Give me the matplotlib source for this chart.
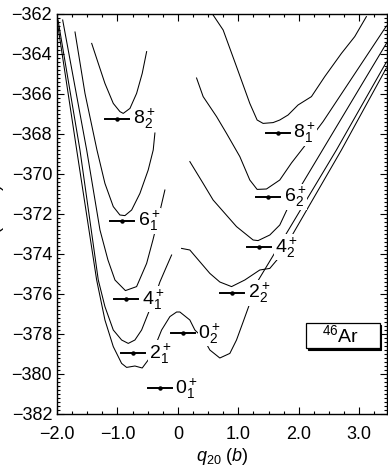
import numpy as np
import matplotlib.pyplot as plt
from matplotlib.patches import Rectangle
from matplotlib.ticker import MultipleLocator, FixedLocator

plt.rcParams['font.family'] = ['Liberation Sans', 'DejaVu Sans']
plt.rcParams['mathtext.fontset'] = 'custom'
plt.rcParams['mathtext.rm'] = 'Liberation Sans'
plt.rcParams['mathtext.it'] = 'Liberation Sans:italic'

# projected energy curves, (q20, E) pairs; oblate (left) and prolate (right) branches
q_I0 = [-2.005, -1.674, -1.344, -1.207, -1.069, -0.931, -0.848, -0.711, -0.590, -0.491,
        -0.380, -0.269, -0.132, -0.021, 0.033, 0.198, 0.281, 0.418, 0.529, 0.694,
        0.860, 0.970, 1.079, 1.190, 1.273, 1.562, 2.623, 3.45]
E_I0 = [-362.2, -368.8, -375.3, -377.3, -378.63, -379.47, -379.67, -379.6, -379.7, -379.3,
        -378.63, -377.8, -377.13, -376.9, -376.9, -377.3, -377.8, -378.2, -378.8, -379.2,
        -378.97, -378.3, -377.4, -376.47, -375.6, -374.15, -368.8, -364.4]

q_I2a = [-1.983, -1.620, -1.317, -1.207, -1.069, -0.931, -0.821, -0.711, -0.600, -0.491,
         -0.380, -0.298, -0.198, -0.104]
E_I2a = [-362.3, -368.8, -375.3, -376.63, -377.8, -378.3, -378.47, -378.3, -377.8, -376.97,
         -376.13, -375.4, -374.7, -374.05]
q_I2b = [0.061, 0.198, 0.529, 0.694, 0.888, 1.107, 1.355, 1.521, 1.686, 2.706, 3.45]
E_I2b = [-373.72, -373.8, -374.97, -375.4, -375.63, -375.3, -374.8, -374.72, -374.13,
         -368.8, -364.7]

q_I4a = [-1.906, -1.509, -1.289, -1.157, -1.041, -0.868, -0.683, -0.517, -0.413, -0.331, -0.215]
E_I4a = [-362.3, -368.8, -372.8, -374.3, -375.3, -375.83, -375.63, -374.47, -373.3, -372.3, -370.8]
q_I4b = [0.198, 0.418, 0.583, 0.970, 1.245, 1.327, 1.521, 1.686, 1.818, 2.314, 3.45]
E_I4b = [-369.38, -370.47, -371.3, -372.63, -373.3, -373.33, -373.05, -372.55, -371.7, -369.2, -363.47]

q_I6a = [-1.702, -1.537, -1.339, -1.207, -1.069, -0.959, -0.876, -0.765, -0.628, -0.491, -0.408, -0.380]
E_I6a = [-362.9, -365.97, -368.8, -370.47, -371.63, -372.05, -372.08, -371.8, -370.97, -369.8, -368.8, -367.95]
q_I6b = [0.309, 0.418, 0.640, 0.805, 1.025, 1.190, 1.311, 1.466, 1.686, 1.879, 2.154, 2.402, 3.45]
E_I6b = [-365.2, -366.13, -367.13, -367.97, -369.13, -370.3, -370.77, -370.75, -370.3, -369.45,
         -368.38, -367.38, -362.6]

q_I8a = [-1.426, -1.317, -1.207, -1.069, -0.959, -0.904, -0.793, -0.683, -0.590, -0.517]
E_I8a = [-363.47, -364.47, -365.47, -366.47, -366.88, -366.97, -366.72, -365.97, -364.97, -363.88]
q_I8b = [0.583, 0.749, 0.970, 1.190, 1.311, 1.410, 1.575, 1.686, 1.823, 1.988, 2.210, 2.430,
         2.706, 2.926, 3.119]
E_I8b = [-362.05, -362.8, -364.63, -366.47, -367.3, -367.47, -367.43, -367.3, -367.05, -366.55,
         -366.13, -365.13, -363.97, -363.13, -362.13]

curves = [(q_I0, E_I0), (q_I2a, E_I2a), (q_I2b, E_I2b), (q_I4a, E_I4a), (q_I4b, E_I4b),
          (q_I6a, E_I6a), (q_I6b, E_I6b), (q_I8a, E_I8a), (q_I8b, E_I8b)]

# states: label, q20 of the marker, energy
state_names = ['0', '2', '4', '6', '8', '0', '2', '4', '6', '8']
state_index = ['1', '1', '1', '1', '2', '2', '2', '2', '2', '1']
state_q = [-0.30, -0.74, -0.86, -0.92, -1.01, 0.08, 0.90, 1.34, 1.49, 1.65]
state_E = [-380.72, -378.97, -376.27, -372.35, -367.25, -377.97, -375.93, -373.67, -371.13, -367.93]
bar_half = 0.2

fig = plt.figure(figsize=(3.88, 4.71), dpi=100)
ax = fig.add_axes([57 / 388, 57 / 471, 330 / 388, 400 / 471])

for q, E in curves:
    ax.plot(q, E, color='black', lw=0.75, zorder=2)

for name, idx, q, E in zip(state_names, state_index, state_q, state_E):
    ax.plot([q - bar_half, q + bar_half], [E, E], color='black', lw=1.4, zorder=4)
    ax.plot(q, E, 'o', color='black', ms=2.2, zorder=5)
    ax.text(q + bar_half + 0.06, E, r'$\mathregular{%s^+_%s}$' % (name, idx),
            fontsize=14, ha='left', va='center', zorder=3,
            bbox=dict(facecolor='white', edgecolor='none', pad=0.5))

# nucleus tag with a drop shadow
box_x0, box_x1 = 2.124, 3.336
box_y0, box_y1 = -378.72, -377.47
sx, sy = 0.03, -0.1
ax.add_patch(Rectangle((box_x0 + sx, box_y0 + sy), box_x1 - box_x0, box_y1 - box_y0,
                       facecolor='black', edgecolor='black', lw=0.8, zorder=6))
ax.add_patch(Rectangle((box_x0, box_y0), box_x1 - box_x0, box_y1 - box_y0,
                       facecolor='white', edgecolor='black', lw=0.9, zorder=7))
ax.text((box_x0 + box_x1) / 2 - 0.04, (box_y0 + box_y1) / 2 + 0.02, r'$\mathregular{^{46}}$Ar',
        fontsize=14, ha='center', va='center', zorder=8)

ax.set_xlim(-2.0, 3.46)
ax.set_ylim(-382, -362)
ax.xaxis.set_major_locator(FixedLocator([-2, -1, 0, 1, 2, 3]))
ax.set_xticklabels(['\u22122.0', '\u22121.0', '0', '1.0', '2.0', '3.0'])
ax.xaxis.set_minor_locator(MultipleLocator(0.25))
ax.yaxis.set_major_locator(MultipleLocator(2))
ax.yaxis.set_minor_locator(MultipleLocator(0.2))
ax.tick_params(which='both', direction='in', top=True, right=True, labelsize=13, width=0.8)
ax.tick_params(which='major', length=5)
ax.tick_params(which='minor', length=2.5)
ax.tick_params(axis='x', which='major', pad=8.5)
for s in ax.spines.values():
    s.set_linewidth(1.0)

ax.set_xlabel(r'$q_{20}$ $(b)$', fontsize=13, labelpad=2)
fig.text(4 / 388, 0.54, 'E (MeV)', rotation=90, ha='right', va='center', fontsize=13)

fig.savefig('out.png', dpi=100)
